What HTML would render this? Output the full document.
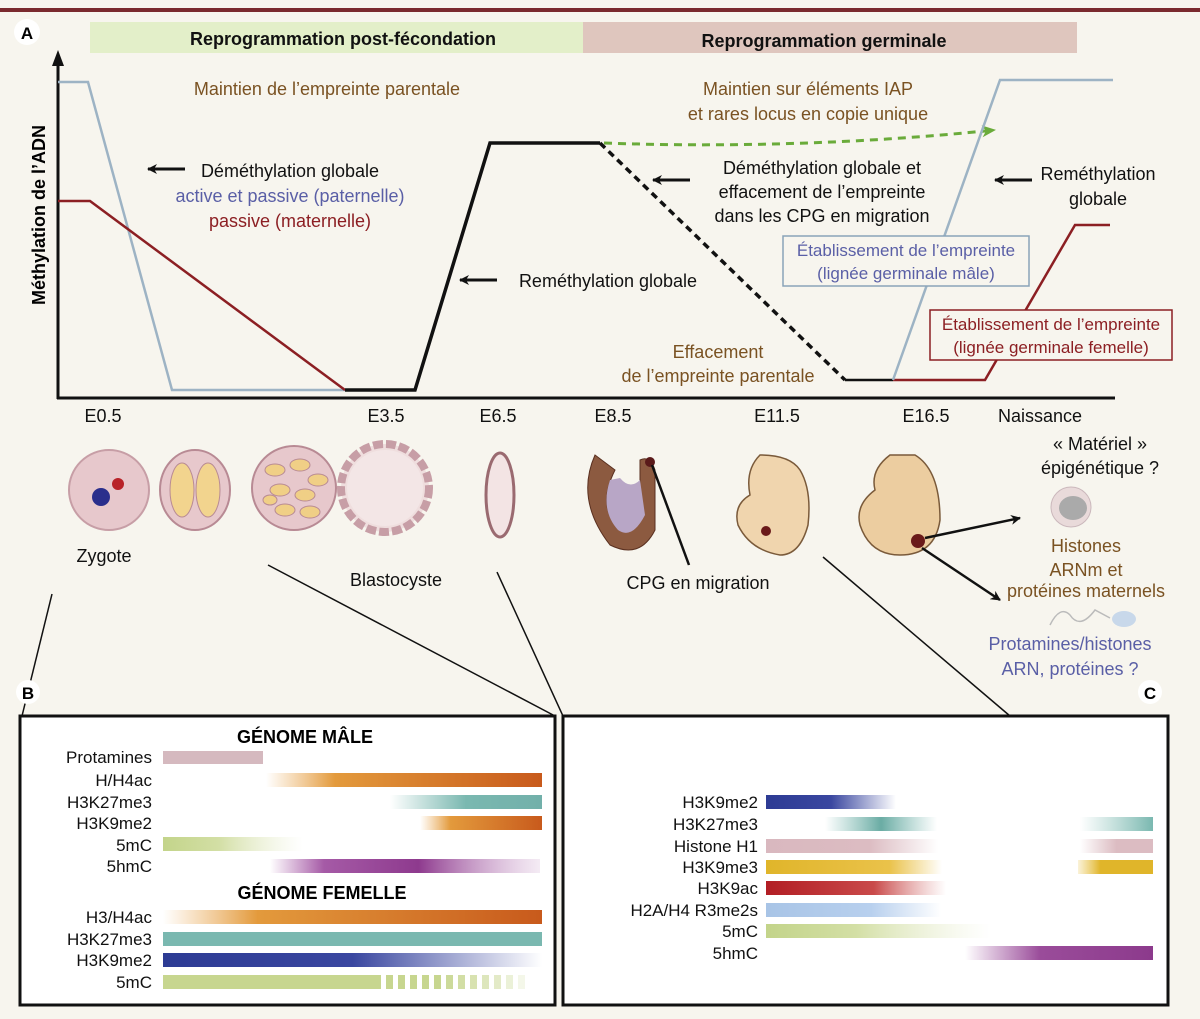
<!DOCTYPE html>
<html><head><meta charset="utf-8"><style>
html,body{margin:0;padding:0;background:#f7f5ee;}
svg{display:block;font-family:"Liberation Sans Narrow","Liberation Sans",sans-serif;}
</style></head><body>
<svg width="1200" height="1019" viewBox="0 0 1200 1019" xmlns="http://www.w3.org/2000/svg">
<defs>
<marker id="ah" markerWidth="10" markerHeight="10" refX="9" refY="5" orient="auto" markerUnits="userSpaceOnUse"><path d="M0,0 L10,5 L0,10 L3,5Z" fill="#111"/></marker>
<marker id="ahg" markerWidth="14" markerHeight="12" refX="13" refY="6" orient="auto" markerUnits="userSpaceOnUse"><path d="M0,0 L14,6 L0,12 L4,6Z" fill="#6aab3a"/></marker>
<linearGradient id="orIn" x1="0" x2="1"><stop offset="0" stop-color="#e9a64f" stop-opacity="0"/><stop offset="0.25" stop-color="#e39a3c"/><stop offset="1" stop-color="#c85a1c"/></linearGradient>
<linearGradient id="tealIn" x1="0" x2="1"><stop offset="0" stop-color="#7ab8b0" stop-opacity="0"/><stop offset="0.5" stop-color="#7ab8b0"/><stop offset="1" stop-color="#72b0aa"/></linearGradient>
<linearGradient id="grOut" x1="0" x2="1"><stop offset="0" stop-color="#c3d48a"/><stop offset="0.4" stop-color="#d3dfa5"/><stop offset="1" stop-color="#e8edcf" stop-opacity="0"/></linearGradient>
<linearGradient id="purp" x1="0" x2="1"><stop offset="0" stop-color="#a85ba8" stop-opacity="0"/><stop offset="0.2" stop-color="#a55aa6"/><stop offset="0.55" stop-color="#8e3a8e"/><stop offset="1" stop-color="#c89ac8" stop-opacity="0.2"/></linearGradient>
<linearGradient id="blueOut" x1="0" x2="1"><stop offset="0" stop-color="#2d3b94"/><stop offset="0.5" stop-color="#3a47a0"/><stop offset="1" stop-color="#3a47a0" stop-opacity="0"/></linearGradient>
<linearGradient id="tealBoth" x1="0" x2="1"><stop offset="0" stop-color="#7ab8b0" stop-opacity="0"/><stop offset="0.5" stop-color="#6aaca4"/><stop offset="1" stop-color="#7ab8b0" stop-opacity="0"/></linearGradient>
<linearGradient id="pinkOut" x1="0" x2="1"><stop offset="0" stop-color="#d9b8bf"/><stop offset="0.6" stop-color="#dcbcc2"/><stop offset="1" stop-color="#dcbcc2" stop-opacity="0"/></linearGradient>
<linearGradient id="yelOut" x1="0" x2="1"><stop offset="0" stop-color="#e0b52a"/><stop offset="0.7" stop-color="#eac24a"/><stop offset="1" stop-color="#eac24a" stop-opacity="0"/></linearGradient>
<linearGradient id="redOut" x1="0" x2="1"><stop offset="0" stop-color="#b21e24"/><stop offset="0.6" stop-color="#c94a4a"/><stop offset="1" stop-color="#d77a7a" stop-opacity="0"/></linearGradient>
<linearGradient id="lbOut" x1="0" x2="1"><stop offset="0" stop-color="#a8c4e6"/><stop offset="0.6" stop-color="#b8d0ee"/><stop offset="1" stop-color="#b8d0ee" stop-opacity="0"/></linearGradient>
<linearGradient id="purpIn" x1="0" x2="1"><stop offset="0" stop-color="#9a4c9a" stop-opacity="0"/><stop offset="0.4" stop-color="#9a4c9a"/><stop offset="1" stop-color="#8c3a8c"/></linearGradient>
<linearGradient id="tealR" x1="0" x2="1"><stop offset="0" stop-color="#8cc2ba" stop-opacity="0"/><stop offset="1" stop-color="#7ab8b0"/></linearGradient>
<linearGradient id="pinkR" x1="0" x2="1"><stop offset="0" stop-color="#dcbcc2" stop-opacity="0"/><stop offset="0.5" stop-color="#dcbcc2"/></linearGradient>
<linearGradient id="yelR" x1="0" x2="1"><stop offset="0" stop-color="#e8c040" stop-opacity="0.2"/><stop offset="0.3" stop-color="#e0b52a"/></linearGradient>
</defs>

<rect width="1200" height="1019" fill="#f7f5ee"/>
<rect x="0" y="8" width="1200" height="4" fill="#7a2a2e"/>

<rect x="90" y="22" width="493" height="31" fill="#e3efc9"/>
<rect x="583" y="22" width="494" height="31" fill="#dfc6be"/>
<text x="343" y="45" text-anchor="middle" font-size="18" font-weight="bold" fill="#111">Reprogrammation post-fécondation</text>
<text x="824" y="47" text-anchor="middle" font-size="18" font-weight="bold" fill="#111">Reprogrammation germinale</text>
<circle cx="27" cy="32" r="13" fill="#fff"/>
<text x="27" y="39" text-anchor="middle" font-size="17" font-weight="bold">A</text>

<line x1="58" y1="60" x2="58" y2="399" stroke="#111" stroke-width="3"/>
<path d="M52,66 L58,50 L64,66 Z" fill="#111"/>
<line x1="57" y1="398" x2="1115" y2="398" stroke="#111" stroke-width="3"/>
<text transform="translate(45,215) rotate(-90)" text-anchor="middle" font-size="18" font-weight="bold">Méthylation de l’ADN</text>

<polyline points="58,82 88,82 172,390 345,390" fill="none" stroke="#9db3c4" stroke-width="2.5"/>
<polyline points="58,201 90,201 345,390" fill="none" stroke="#8c1f23" stroke-width="2.5"/>
<polyline points="345,390 415,390 490,143 600,143" fill="none" stroke="#111" stroke-width="3.5"/>
<line x1="600" y1="143" x2="845" y2="380" stroke="#111" stroke-width="3.5" stroke-dasharray="7,5"/>
<line x1="845" y1="380" x2="893" y2="380" stroke="#111" stroke-width="2.5"/>
<path d="M604,143 Q800,150 995,130" fill="none" stroke="#6aab3a" stroke-width="3" stroke-dasharray="8,6" marker-end="url(#ahg)"/>
<polyline points="893,380 985,380 1075,225 1110,225" fill="none" stroke="#8c1f23" stroke-width="2.5"/>
<polyline points="893,380 1000,80 1113,80" fill="none" stroke="#9db3c4" stroke-width="2.5"/>

<g font-size="18">
<text x="327" y="95" text-anchor="middle" fill="#7a5222">Maintien de l’empreinte parentale</text>
<text x="290" y="177" text-anchor="middle" fill="#111">Déméthylation globale</text>
<text x="290" y="202" text-anchor="middle" fill="#5a5fa6">active et passive (paternelle)</text>
<text x="290" y="227" text-anchor="middle" fill="#8c1f23">passive (maternelle)</text>
<text x="608" y="287" text-anchor="middle" fill="#111">Reméthylation globale</text>
<text x="808" y="95" text-anchor="middle" fill="#7a5222">Maintien sur éléments IAP</text>
<text x="808" y="120" text-anchor="middle" fill="#7a5222">et rares locus en copie unique</text>
<text x="822" y="174" text-anchor="middle" fill="#111">Déméthylation globale et</text>
<text x="822" y="198" text-anchor="middle" fill="#111">effacement de l’empreinte</text>
<text x="822" y="222" text-anchor="middle" fill="#111">dans les CPG en migration</text>
<text x="1098" y="180" text-anchor="middle" fill="#111">Reméthylation</text>
<text x="1098" y="205" text-anchor="middle" fill="#111">globale</text>
<text x="718" y="358" text-anchor="middle" fill="#7a5222">Effacement</text>
<text x="718" y="382" text-anchor="middle" fill="#7a5222">de l’empreinte parentale</text>
</g>
<line x1="185" y1="169" x2="148" y2="169" stroke="#111" stroke-width="3" marker-end="url(#ah)"/>
<line x1="497" y1="280" x2="460" y2="280" stroke="#111" stroke-width="3" marker-end="url(#ah)"/>
<line x1="690" y1="180" x2="653" y2="180" stroke="#111" stroke-width="3" marker-end="url(#ah)"/>
<line x1="1032" y1="180" x2="995" y2="180" stroke="#111" stroke-width="3" marker-end="url(#ah)"/>
<rect x="783" y="236" width="246" height="50" fill="#f7f5ee" stroke="#8aa4b8" stroke-width="1.5"/>
<text x="906" y="256" text-anchor="middle" font-size="17" fill="#5a5fa6">Établissement de l’empreinte</text>
<text x="906" y="279" text-anchor="middle" font-size="17" fill="#5a5fa6">(lignée germinale mâle)</text>
<rect x="930" y="310" width="242" height="50" fill="#f7f5ee" stroke="#8c1f23" stroke-width="1.5"/>
<text x="1051" y="330" text-anchor="middle" font-size="17" fill="#8c1f23">Établissement de l’empreinte</text>
<text x="1051" y="353" text-anchor="middle" font-size="17" fill="#8c1f23">(lignée germinale femelle)</text>

<g font-size="18" fill="#111" text-anchor="middle">
<text x="103" y="422">E0.5</text><text x="386" y="422">E3.5</text><text x="498" y="422">E6.5</text>
<text x="613" y="422">E8.5</text><text x="777" y="422">E11.5</text><text x="926" y="422">E16.5</text>
<text x="1040" y="422">Naissance</text>
<text x="1100" y="450">« Matériel »</text><text x="1100" y="474">épigénétique ?</text>
</g>

<circle cx="109" cy="490" r="40" fill="#e7c8cc" stroke="#c79ea6" stroke-width="2"/>
<circle cx="101" cy="497" r="9" fill="#2a2e8c"/><circle cx="118" cy="484" r="6" fill="#b82228"/>
<ellipse cx="195" cy="490" rx="35" ry="40" fill="#e7c8cc" stroke="#b88a94" stroke-width="2"/>
<ellipse cx="182" cy="490" rx="12" ry="27" fill="#f2d48e" stroke="#b88a94"/><ellipse cx="208" cy="490" rx="12" ry="27" fill="#f2d48e" stroke="#b88a94"/>
<circle cx="294" cy="488" r="42" fill="#e7c8cc" stroke="#b88a94" stroke-width="2"/>
<g fill="#f0cf86" stroke="#b88a94">
<ellipse cx="275" cy="470" rx="10" ry="6"/><ellipse cx="300" cy="465" rx="10" ry="6"/><ellipse cx="318" cy="480" rx="10" ry="6"/><ellipse cx="280" cy="490" rx="10" ry="6"/><ellipse cx="305" cy="495" rx="10" ry="6"/><ellipse cx="285" cy="510" rx="10" ry="6"/><ellipse cx="310" cy="512" rx="10" ry="6"/><ellipse cx="270" cy="500" rx="7" ry="5"/></g>
<circle cx="385" cy="488" r="44" fill="#efdede" stroke="#c79ea6" stroke-width="8" stroke-dasharray="10,3"/>
<circle cx="385" cy="488" r="38" fill="#f3e6e6"/>
<ellipse cx="500" cy="495" rx="14" ry="42" fill="#f3e4e4" stroke="#9a6a70" stroke-width="3"/>
<path d="M595,455 Q575,500 610,545 Q640,560 655,530 L655,470 Q650,455 640,460 L640,520 Q625,540 612,520 Q600,500 615,470 Z" fill="#8c5a40" stroke="#5a3020"/>
<path d="M610,480 Q600,510 618,530 Q632,540 645,515 L640,480 Q630,490 620,478Z" fill="#b8a6c6"/>
<circle cx="650" cy="462" r="5" fill="#5a1a1a"/>
<line x1="652" y1="465" x2="689" y2="565" stroke="#111" stroke-width="2.5"/>
<path d="M760,455 Q745,470 750,495 Q733,505 738,525 Q750,550 780,555 Q800,555 808,525 Q812,490 800,470 Q790,455 760,455Z" fill="#f0d5ae" stroke="#7a5a3a" stroke-width="1.5"/>
<circle cx="766" cy="531" r="5" fill="#6a1a1a"/>
<path d="M890,455 Q870,470 875,490 Q855,505 860,525 Q870,555 900,555 Q935,555 940,520 Q940,470 915,455 Z" fill="#eccda0" stroke="#7a5a3a" stroke-width="1.5"/>
<circle cx="918" cy="541" r="7" fill="#6a1a1a"/>
<line x1="925" y1="538" x2="1020" y2="518" stroke="#111" stroke-width="2.5" marker-end="url(#ah)"/>
<line x1="922" y1="548" x2="1000" y2="600" stroke="#111" stroke-width="2.5" marker-end="url(#ah)"/>
<circle cx="1071" cy="507" r="20" fill="#e9dada" stroke="#cbb8bc"/><ellipse cx="1073" cy="508" rx="14" ry="12" fill="#aaa"/>
<path d="M1050,625 Q1060,605 1070,615 Q1080,630 1095,610 L1110,618" fill="none" stroke="#bbb" stroke-width="1.5"/>
<ellipse cx="1124" cy="619" rx="12" ry="8" fill="#c8d8ea"/>
<g font-size="18" text-anchor="middle">
<text x="104" y="562" fill="#111">Zygote</text>
<text x="396" y="586" fill="#111">Blastocyste</text>
<text x="698" y="589" fill="#111">CPG en migration</text>
<text x="1086" y="552" fill="#7a5222">Histones</text>
<text x="1086" y="576" fill="#7a5222">ARNm et</text>
<text x="1086" y="597" fill="#7a5222">protéines maternels</text>
<text x="1070" y="650" fill="#5a5fa6">Protamines/histones</text>
<text x="1070" y="675" fill="#5a5fa6">ARN, protéines ?</text>
</g>

<line x1="52" y1="594" x2="22" y2="716" stroke="#111" stroke-width="1.5"/>
<line x1="268" y1="565" x2="555" y2="716" stroke="#111" stroke-width="1.5"/>
<line x1="497" y1="572" x2="563" y2="716" stroke="#111" stroke-width="1.5"/>
<line x1="823" y1="557" x2="1010" y2="716" stroke="#111" stroke-width="1.5"/>
<circle cx="28" cy="692" r="12" fill="#fff"/><text x="28" y="699" text-anchor="middle" font-size="17" font-weight="bold">B</text>
<circle cx="1150" cy="692" r="12" fill="#fff"/><text x="1150" y="699" text-anchor="middle" font-size="17" font-weight="bold">C</text>

<rect x="20" y="716" width="535" height="289" fill="#fff" stroke="#111" stroke-width="3"/>
<g font-size="17" fill="#111" text-anchor="end">
<text x="152" y="763">Protamines</text><text x="152" y="786">H/H4ac</text><text x="152" y="808">H3K27me3</text>
<text x="152" y="829">H3K9me2</text><text x="152" y="851">5mC</text><text x="152" y="872">5hmC</text>
<text x="152" y="923">H3/H4ac</text><text x="152" y="945">H3K27me3</text><text x="152" y="966">H3K9me2</text><text x="152" y="988">5mC</text>
</g>
<text x="305" y="743" text-anchor="middle" font-size="18" font-weight="bold">GÉNOME MÂLE</text>
<text x="322" y="899" text-anchor="middle" font-size="18" font-weight="bold">GÉNOME FEMELLE</text>
<rect x="163" y="751" width="100" height="13" fill="#d5b9bf"/>
<rect x="266" y="773" width="276" height="14" fill="url(#orIn)"/>
<rect x="390" y="795" width="152" height="14" fill="url(#tealIn)"/>
<rect x="420" y="816" width="122" height="14" fill="url(#orIn)"/>
<rect x="163" y="837" width="140" height="14" fill="url(#grOut)"/>
<rect x="270" y="859" width="270" height="14" fill="url(#purp)"/>
<rect x="163" y="910" width="379" height="14" fill="url(#orIn)"/>
<rect x="163" y="932" width="379" height="14" fill="#7ab8b0"/>
<rect x="163" y="953" width="379" height="14" fill="url(#blueOut)"/>
<rect x="163" y="975" width="218" height="14" fill="#c7d68f"/>
<g fill="#c7d68f">
<rect x="386" y="975" width="7" height="14"/><rect x="398" y="975" width="7" height="14"/><rect x="410" y="975" width="7" height="14"/><rect x="422" y="975" width="7" height="14"/><rect x="434" y="975" width="7" height="14"/><rect x="446" y="975" width="7" height="14" opacity="0.9"/><rect x="458" y="975" width="7" height="14" opacity="0.8"/><rect x="470" y="975" width="7" height="14" opacity="0.7"/><rect x="482" y="975" width="7" height="14" opacity="0.6"/><rect x="494" y="975" width="7" height="14" opacity="0.5"/><rect x="506" y="975" width="7" height="14" opacity="0.35"/><rect x="518" y="975" width="7" height="14" opacity="0.2"/></g>

<rect x="563" y="716" width="605" height="289" fill="#fff" stroke="#111" stroke-width="3"/>
<g font-size="17" fill="#111" text-anchor="end">
<text x="758" y="808">H3K9me2</text><text x="758" y="830">H3K27me3</text><text x="758" y="852">Histone H1</text>
<text x="758" y="873">H3K9me3</text><text x="758" y="894">H3K9ac</text><text x="758" y="916">H2A/H4 R3me2s</text>
<text x="758" y="937">5mC</text><text x="758" y="959">5hmC</text>
</g>
<rect x="766" y="795" width="130" height="14" fill="url(#blueOut)"/>
<rect x="825" y="817" width="112" height="14" fill="url(#tealBoth)"/>
<rect x="1080" y="817" width="73" height="14" fill="url(#tealR)"/>
<rect x="766" y="839" width="172" height="14" fill="url(#pinkOut)"/>
<rect x="1080" y="839" width="73" height="14" fill="url(#pinkR)"/>
<rect x="766" y="860" width="176" height="14" fill="url(#yelOut)"/>
<rect x="1078" y="860" width="75" height="14" fill="url(#yelR)"/>
<rect x="766" y="881" width="180" height="14" fill="url(#redOut)"/>
<rect x="766" y="903" width="175" height="14" fill="url(#lbOut)"/>
<rect x="766" y="924" width="225" height="14" fill="url(#grOut)"/>
<rect x="965" y="946" width="188" height="14" fill="url(#purpIn)"/>
</svg>
</body></html>
